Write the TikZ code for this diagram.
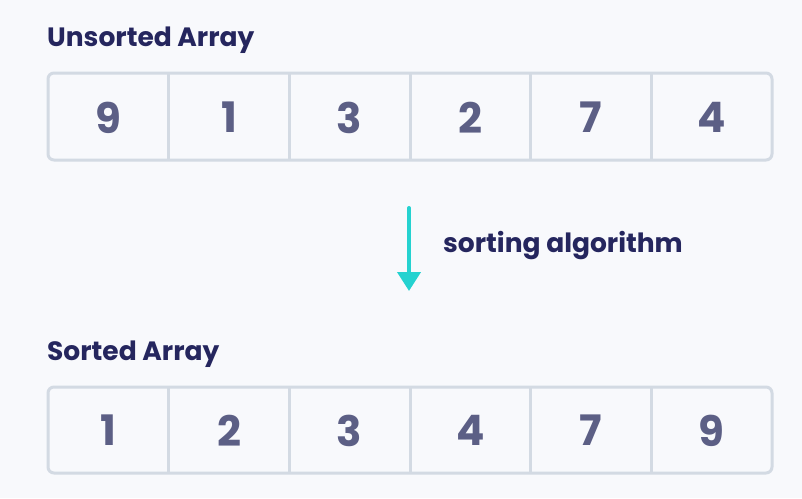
\documentclass[tikz,border=0pt]{standalone}
\usepackage{fontspec}
\setmainfont{Poppins}
\usetikzlibrary{arrows.meta}
\definecolor{bgcol}{HTML}{F8F9FC}
\definecolor{boxcol}{HTML}{D3DAE3}
\definecolor{digitcol}{HTML}{5C5F85}
\definecolor{titlecol}{HTML}{25265E}
\definecolor{arrowcol}{HTML}{25D2D0}
\tikzset{
  title/.style={anchor=base west,inner sep=0pt,text=titlecol,font=\fontsize{26.5}{30}\selectfont\bfseries},
  digit/.style={inner sep=0pt,text=digitcol,font=\fontsize{42}{46}\selectfont\bfseries},
  frame/.style={draw=boxcol,line width=3pt,rounded corners=6pt}
}
\begin{document}
\begin{tikzpicture}[x=1pt,y=-1pt]
\fill[bgcol] (0,0) rectangle (802,498);
\useasboundingbox (0,0) rectangle (802,498);

\node[title] (utitle) at (47,46) {Unsorted Array};
\node[title] (stitle) at (47,360) {Sorted Array};

\draw[frame] (48,73) rectangle (772,160);
\draw[frame] (48,387) rectangle (772,473);

\foreach \i in {1,...,5} {
  \draw[boxcol,line width=3pt] (48+\i*120.67,73) -- (48+\i*120.67,160);
  \draw[boxcol,line width=3pt] (48+\i*120.67,387) -- (48+\i*120.67,473);
}

\foreach \v [count=\i] in {9,1,3,2,7,4}
  \node[digit] (u\i) at (48+\i*120.67-60.33,117.5) {\v};
\foreach \v [count=\i] in {1,2,3,4,7,9}
  \node[digit] (s\i) at (48+\i*120.67-60.33,430.5) {\v};

\coordinate (atop) at (409,208);
\coordinate (abot) at (409,291);
\draw[arrowcol,line width=4pt,line cap=round,-{Triangle[length=19pt,width=23pt]}] (atop) -- (abot);
\node[anchor=west,inner sep=0pt,text=titlecol,font=\fontsize{26.5}{30}\selectfont\bfseries] (label) at (443,246) {sorting algorithm};
\end{tikzpicture}
\end{document}
